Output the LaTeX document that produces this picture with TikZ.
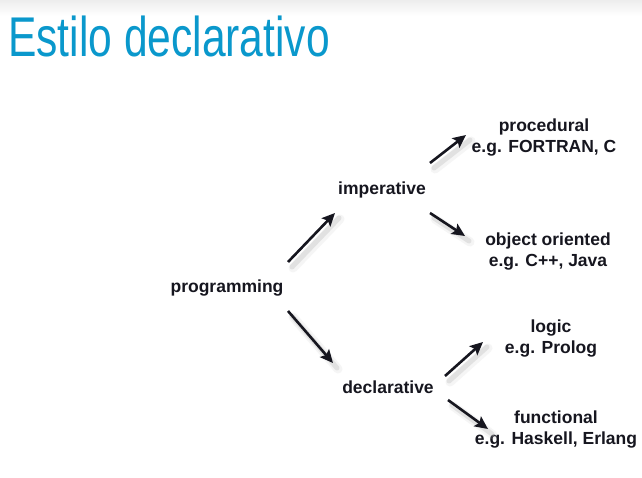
\documentclass[tikz,border=0pt]{standalone}
\usepackage{fontspec}
\setmainfont{Liberation Sans}
\usetikzlibrary{arrows.meta}
\definecolor{titleblue}{HTML}{0A98CC}
\definecolor{inkdark}{HTML}{16161F}
\tikzset{
  lbl/.style={font=\bfseries\fontsize{17.5}{21}\selectfont, text=inkdark, inner sep=0pt, align=center},
  arr/.style={line width=2.6pt, inkdark, -{Stealth[length=13pt,width=12pt,inset=2.5pt]}},
  arrshadow/.style={line width=5pt, black!25, opacity=0.35, line cap=round},
}
\begin{document}
\begin{tikzpicture}[x=1pt,y=-1pt]
  \useasboundingbox (0,0) rectangle (642,478);
  \fill[white] (0,0) rectangle (642,478);
  % header band
  \shade[top color=black!7, bottom color=white] (0,0) rectangle (642,16);
  % title
  \node[anchor=base west, inner sep=0pt, text=titleblue] (title) at (8,57)
    {\scalebox{0.76}[1]{\fontsize{56}{60}\selectfont Estilo declarativo}};

  % labels
  \node[lbl] (prog) at (227,288) {programming};
  \node[lbl] (imp)  at (382,190) {imperative};
  \node[lbl] (decl) at (388,387) {declarative};
  \node[lbl] (proc) at (544,138) {procedural\\e.g. FORTRAN, C};
  \node[lbl] (oo)   at (548,252) {object oriented\\e.g. C++, Java};
  \node[lbl] (log)  at (551,339) {logic\\e.g. Prolog};
  \node[lbl] (fun)  at (556,430) {functional\\e.g. Haskell, Erlang};

  % anchor points of the connectors
  \coordinate (p1s) at (288,262); \coordinate (p1e) at (335,213);
  \coordinate (p2s) at (288,311); \coordinate (p2e) at (333,363);
  \coordinate (i1s) at (430,163); \coordinate (i1e) at (466,135);
  \coordinate (i2s) at (430,213); \coordinate (i2e) at (465,236);
  \coordinate (d1s) at (445,376); \coordinate (d1e) at (483,342);
  \coordinate (d2s) at (448,400); \coordinate (d2e) at (488,429);

  % soft shadows under the arrows
  \foreach \s/\e in {p1s/p1e,p2s/p2e,i1s/i1e,i2s/i2e,d1s/d1e,d2s/d2e}{
    \draw[arrshadow] ([shift={(4,5)}]\s) -- ([shift={(4,5)}]\e);
    \draw[arrshadow, line width=9pt, opacity=0.15] ([shift={(5,6)}]\s) -- ([shift={(5,6)}]\e);
  }

  % connectors
  \draw[arr] (p1s) -- (p1e);
  \draw[arr] (p2s) -- (p2e);
  \draw[arr] (i1s) -- (i1e);
  \draw[arr] (i2s) -- (i2e);
  \draw[arr] (d1s) -- (d1e);
  \draw[arr] (d2s) -- (d2e);
\end{tikzpicture}
\end{document}
